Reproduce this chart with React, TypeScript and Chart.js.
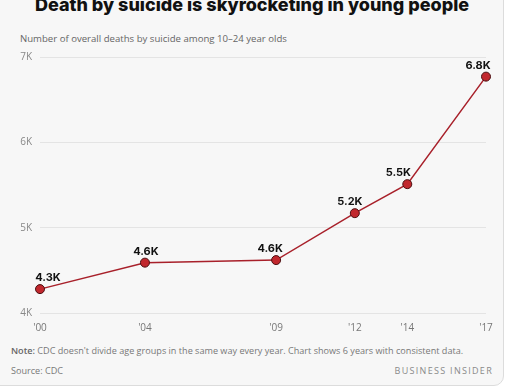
import React, { useEffect, useRef } from "react";
import { Chart, registerables } from "chart.js";

Chart.register(...registerables);

const years = [2000, 2004, 2009, 2012, 2014, 2017];
const deaths = [4280, 4590, 4620, 5170, 5510, 6770];
const pointLabels = ["4.3K", "4.6K", "4.6K", "5.2K", "5.5K", "6.8K"];
const yTicks = [4000, 5000, 6000, 7000];

const labelShift = [8, 1, -6, -5, -9, -8];

const labelPlugin = {
  id: "pointLabels",
  afterDatasetsDraw(chart: any) {
    const ctx = chart.ctx;
    const meta = chart.getDatasetMeta(0);
    ctx.save();
    ctx.font = "bold 11px Inter, 'Open Sans', sans-serif";
    ctx.fillStyle = "#111";
    ctx.textAlign = "center";
    ctx.textBaseline = "middle";
    meta.data.forEach((pt: any, i: number) => {
      ctx.fillText(pointLabels[i], pt.x + labelShift[i], pt.y - 11);
    });
    ctx.restore();
  },
};

export default function App() {
  const ref = useRef<HTMLCanvasElement>(null);
  useEffect(() => {
    if (!ref.current) return;
    const chart = new Chart(ref.current, {
      type: "line",
      data: {
        datasets: [
          {
            data: years.map((y, i) => ({ x: y, y: deaths[i] })),
            borderColor: "#a8202a",
            borderWidth: 1.5,
            pointRadius: 4.5,
            pointBackgroundColor: "#c1272d",
            pointBorderColor: "#4a0e10",
            pointBorderWidth: 1,
            tension: 0,
            clip: false,
          },
        ],
      },
      options: {
        responsive: false,
        animation: false,
        layout: { padding: { top: 17, right: 23, left: 0, bottom: 0 } },
        plugins: { legend: { display: false }, tooltip: { enabled: false } },
        scales: {
          x: {
            type: "linear",
            min: 2000,
            max: 2017,
            grid: { display: false, drawTicks: false },
            border: { display: false },
            afterBuildTicks: (s: any) => {
              s.ticks = years.map((v) => ({ value: v }));
            },
            afterFit: (s: any) => {
              s.height = 27;
            },
            ticks: {
              padding: 9,
              maxRotation: 0,
              autoSkip: false,
              color: "#777",
              font: { size: 10, family: "'Open Sans', sans-serif" },
              callback: (v: any) => "'" + String(v).slice(2),
            },
          },
          y: {
            min: 4000,
            max: 7000,
            grid: { color: "#e4e4e4", drawTicks: false, lineWidth: 1 },
            border: { display: false },
            afterBuildTicks: (s: any) => {
              s.ticks = yTicks.map((v) => ({ value: v }));
            },
            afterFit: (s: any) => {
              s.width = 40;
            },
            ticks: {
              padding: 8,
              color: "#888",
              font: { size: 10, family: "'Open Sans', sans-serif" },
              callback: (v: any) => Number(v) / 1000 + "K",
            },
          },
        },
      },
      plugins: [labelPlugin],
    } as any);
    return () => chart.destroy();
  }, []);

  return (
    <div
      style={{
        position: "absolute",
        left: 0,
        top: 0,
        width: 509,
        height: 387,
        background: "#fff",
        overflow: "hidden",
        fontFamily: "'Open Sans', sans-serif",
      }}
    >
      <div
        style={{
          position: "absolute",
          left: -10,
          top: -20,
          width: 512,
          height: 404,
          background: "#f7f7f7",
          border: "1px solid #dcdcdc",
          borderRadius: 10,
        }}
      />
      <div
        style={{
          position: "absolute",
          left: 0,
          width: 504,
          top: -10,
          textAlign: "center",
          fontFamily: "Inter, sans-serif",
          fontWeight: 800,
          fontSize: 18,
          color: "#111",
          whiteSpace: "nowrap",
          lineHeight: "30px",
        }}
      >
        Death by suicide is skyrocketing in young people
      </div>
      <div
        style={{
          position: "absolute",
          left: 20,
          top: 32,
          fontSize: 9.6,
          color: "#666",
          whiteSpace: "nowrap",
        }}
      >
        Number of overall deaths by suicide among 10–24 year olds
      </div>
      <canvas
        ref={ref}
        width={509}
        height={300}
        style={{ position: "absolute", left: 0, top: 40, width: 509, height: 300 }}
      />
      <div
        style={{
          position: "absolute",
          left: 11,
          top: 344,
          fontSize: 9.1,
          color: "#777",
          whiteSpace: "nowrap",
        }}
      >
        <span style={{ fontWeight: 600, color: "#666" }}>Note:</span> CDC doesn't divide age groups in the same
        way every year. Chart shows 6 years with consistent data.
      </div>
      <div
        style={{
          position: "absolute",
          left: 11,
          top: 364,
          fontSize: 9.1,
          color: "#777",
          whiteSpace: "nowrap",
        }}
      >
        Source: CDC
      </div>
      <div
        style={{
          position: "absolute",
          right: 16,
          top: 364,
          fontSize: 9,
          color: "#8a8a8a",
          letterSpacing: 1.3,
          whiteSpace: "nowrap",
        }}
      >
        BUSINESS INSIDER
      </div>
    </div>
  );
}
